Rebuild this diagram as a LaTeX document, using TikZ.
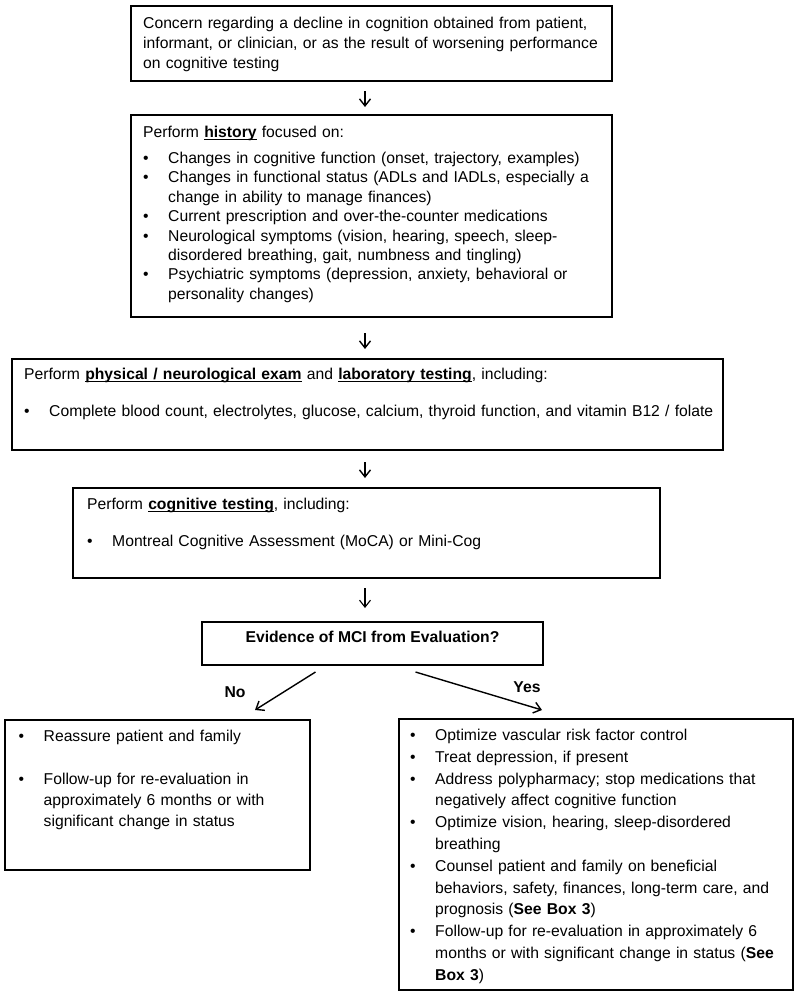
\documentclass[tikz,border=0pt]{standalone}
\usepackage{fontspec}
\setmainfont{Liberation Sans}
\usetikzlibrary{arrows.meta}
\newcommand{\hdr}[1]{\setbox0=\hbox{\bfseries #1}\rlap{\rule[-2.8pt]{\wd0}{1.1pt}}\box0\relax}
\newcommand{\itm}[1]{\hangindent=25pt\hangafter=1\noindent\makebox[25pt][l]{\textbullet}#1\par}
\begin{document}
\begin{tikzpicture}[x=1pt,y=-1pt,
  box/.style={draw,line width=1.5pt,inner sep=0pt,outer sep=0pt},
  txt/.style={anchor=north west,inner sep=0pt,align=left},
  arr/.style={line width=1.4pt,-{Straight Barb[length=7pt,width=11pt]}},
  lbl/.style={font=\fontsize{15.7}{19}\selectfont\bfseries,inner sep=0pt}]
\useasboundingbox (0,0) rectangle (800,996);
\coordinate (spine) at (365,0);

\node[box,minimum width=481pt,minimum height=75pt] (concern) at (371.5,43.5) {};
\node[txt,text width=465pt,font=\fontsize{15.7}{20}\selectfont] (concerntxt) at (143,17) {Concern regarding a decline in cognition obtained from patient,\newline informant, or clinician, or as the result of worsening performance\newline on cognitive testing};

\node[box,minimum width=481pt,minimum height=202pt] (history) at (371.5,216) {};
\node[txt,text width=465pt,font=\fontsize{15.7}{19.4}\selectfont] (historytxt) at (143,126) {Perform \hdr{history} focused on:\par\vspace{6.6pt}
\itm{Changes in cognitive function (onset, trajectory, examples)}
\itm{Changes in functional status (ADLs and IADLs, especially a\newline change in ability to manage finances)}
\itm{Current prescription and over-the-counter medications}
\itm{Neurological symptoms (vision, hearing, speech, sleep-\newline disordered breathing, gait, numbness and tingling)}
\itm{Psychiatric symptoms (depression, anxiety, behavioral or\newline personality changes)}};

\node[box,minimum width=711pt,minimum height=91pt] (exam) at (367.5,404.5) {};
\node[txt,text width=695pt,font=\fontsize{15.7}{20}\selectfont] (examtxt) at (24,368) {Perform \hdr{physical / neurological exam} and \hdr{laboratory testing}, including:\par\vspace{17pt}
\itm{Complete blood count, electrolytes, glucose, calcium, thyroid function, and vitamin B12 / folate}};

\node[box,minimum width=587pt,minimum height=90pt] (cogtest) at (366.5,533) {};
\node[txt,text width=565pt,font=\fontsize{15.7}{20}\selectfont] (cogtesttxt) at (87,498) {Perform \hdr{cognitive testing}, including:\par\vspace{17pt}
\itm{Montreal Cognitive Assessment (MoCA) or Mini-Cog}};

\node[box,minimum width=341pt,minimum height=43pt] (evidence) at (372.5,643.5) {};
\node[lbl] (evidencetxt) at (372.5,637) {Evidence of MCI from Evaluation?};

\node[box,minimum width=305pt,minimum height=150pt] (reassure) at (157.5,795) {};
\node[txt,text width=285pt,font=\fontsize{15.7}{20.8}\selectfont] (reassuretxt) at (18.5,730) {\itm{Reassure patient and family}\vspace{22.5pt}
\itm{Follow-up for re-evaluation in\newline approximately 6 months or with\newline significant change in status}};

\node[box,minimum width=394pt,minimum height=271pt] (manage) at (596,854.5) {};
\node[txt,text width=380pt,font=\fontsize{15.7}{21.8}\selectfont] (managetxt) at (410,729) {\itm{Optimize vascular risk factor control}
\itm{Treat depression, if present}
\itm{Address polypharmacy; stop medications that\newline negatively affect cognitive function}
\itm{Optimize vision, hearing, sleep-disordered\newline breathing}
\itm{Counsel patient and family on beneficial\newline behaviors, safety, finances, long-term care, and\newline prognosis (\textbf{See Box 3})}
\itm{Follow-up for re-evaluation in approximately 6\newline months or with significant change in status (\textbf{See}\newline \textbf{Box 3})}};

\draw[arr,shorten <=10pt,shorten >=8pt] (concern.south -| spine) -- (history.north -| spine);
\draw[arr,shorten <=16pt,shorten >=10pt] (history.south -| spine) -- (exam.north -| spine);
\draw[arr,shorten <=12pt,shorten >=10pt] (exam.south -| spine) -- (cogtest.north -| spine);
\draw[arr,line width=1.1pt,shorten <=10pt,shorten >=14pt] (cogtest.south -| spine) -- (evidence.north -| spine);

\draw[arr] ([shift={(-57,7)}]evidence.south) -- ([shift={(97.5,-10)}]reassure.north);
\draw[arr] ([shift={(43,7)}]evidence.south) -- ([shift={(-54,-9)}]manage.north);
\node[lbl] (nolbl) at (235,692) {No};
\node[lbl] (yeslbl) at (527,687) {Yes};
\end{tikzpicture}
\end{document}
